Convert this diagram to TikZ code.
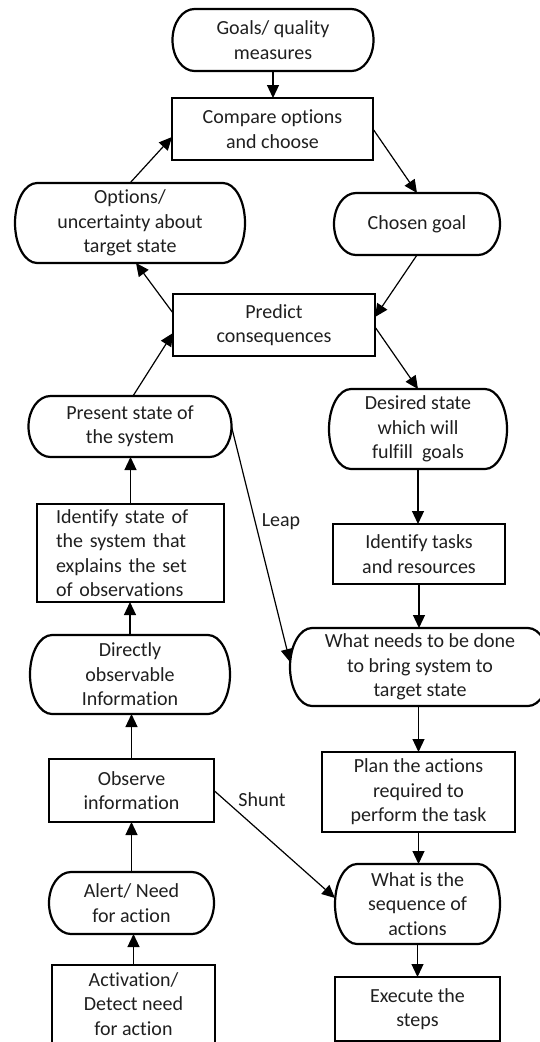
\documentclass[tikz,border=0pt]{standalone}
\usepackage{fontspec}
\setmainfont{Carlito}[Ligatures=NoCommon]
\usetikzlibrary{arrows.meta,calc}

% Terminator outline (flat top and bottom, elliptical ends) around a named node
\newcommand\termline[1]{%
  \draw[termborder] let \p1=(#1.north east), \p2=(#1.south west), \n1={(\y1-\y2)/2} in
    (\x1-22pt,\y1) -- (\x2+22pt,\y1)
    arc[start angle=90, end angle=270, x radius=22pt, y radius=\n1]
    -- (\x1-22pt,\y2)
    arc[start angle=-90, end angle=90, x radius=22pt, y radius=\n1] -- cycle;}

\begin{document}
\begin{tikzpicture}[x=1pt,y=1pt,
  every node/.style={font=\fontsize{20}{24.4}\selectfont, align=center,
                     inner sep=0pt, outer sep=0pt, text=black!88},
  blk/.style={draw, line width=2.2pt},
  termborder/.style={line width=2.2pt},
  flow/.style={line width=1.2pt, -{Triangle[length=13pt,width=12pt]}}]

\useasboundingbox (0,0) rectangle (540,-1042);
\clip (0,0) rectangle (540,-1042);

% ---------- top ----------
\node[minimum width=201pt, minimum height=62pt] (goals) at (273,-40) {Goals/ quality\\measures};
\node[blk, minimum width=201pt, minimum height=62pt] (compare) at (272.5,-129) {Compare options\\and choose};
\node[minimum width=230pt, minimum height=80pt] (options) at (130,-223) {Options/\\uncertainty about\\target state};
\node[minimum width=166pt, minimum height=62pt] (chosen) at (417,-224) {Chosen goal};
\node[blk, minimum width=202pt, minimum height=62pt] (predict) at (274,-325) {Predict\\consequences};

% ---------- left column ----------
\node[minimum width=203pt, minimum height=61pt] (present) at (130,-426.5) {Present state of\\the system};
\node[blk, minimum width=187pt, minimum height=98pt, text width=149pt, align=left] (identstate) at (130.5,-553)
  {Identify state of\\the system that\\explains the set\\of observations};
\node[minimum width=200pt, minimum height=79pt] (directly) at (130,-674.5) {Directly\\observable\\Information};
\node[blk, minimum width=165pt, minimum height=63pt] (observe) at (131.5,-790.5) {Observe\\information};
\node[minimum width=165pt, minimum height=62pt] (alert) at (131.5,-903) {Alert/ Need\\for action};
\node[blk, minimum width=163pt, minimum height=78pt] (activation) at (133.5,-1004) {Activation/\\Detect need\\for action};

% ---------- right column ----------
\node[minimum width=178pt, minimum height=80pt] (desired) at (418,-429) {Desired state\\which will\\fulfill~ goals};
\node[blk, minimum width=172pt, minimum height=60pt] (identtasks) at (419,-554) {Identify tasks\\and resources};
\node[minimum width=260pt, minimum height=78pt] (whatneeds) at (420,-667) {What needs to be done\\to bring system to\\target state};
\node[blk, minimum width=193pt, minimum height=80pt] (plan) at (418.5,-792) {Plan the actions\\required to\\perform the task};
\node[minimum width=165pt, minimum height=80pt] (sequence) at (417.5,-904) {What is the\\sequence of\\actions};
\node[blk, minimum width=165pt, minimum height=64pt] (execute) at (417.5,-1009) {Execute the\\steps};

% terminator outlines
\termline{goals}
\termline{options}
\termline{chosen}
\termline{present}
\termline{directly}
\termline{alert}
\termline{desired}
\termline{whatneeds}
\termline{sequence}

% connector labels
\node (leaplbl) at (281,-522) {Leap};
\node (shuntlbl) at (262,-800) {Shunt};

% ---------- connectors ----------
\draw[flow] (goals.south) -- (goals.south |- compare.north);
\draw[flow] (compare.east) -- (chosen.north);
\draw[flow] (options.north) -- ([yshift=-8pt]compare.west);
\draw[flow] (chosen.south) -- ([yshift=8pt]predict.east);
\draw[flow] ([yshift=12pt]predict.west) -- ([xshift=6pt]options.south);
\draw[flow] ([xshift=3pt]present.north) -- ([yshift=-8pt]predict.west);
\draw[flow] ([yshift=-2pt]predict.east) -- (desired.north);

\draw[flow] (desired.south) -- (desired.south |- identtasks.north);
\draw[flow] (identtasks.south) -- (identtasks.south |- whatneeds.north);
\draw[flow] (plan.north |- whatneeds.south) -- (plan.north);
\draw[flow] (plan.south) -- (plan.south |- sequence.north);
\draw[flow] (sequence.south) -- (sequence.south |- execute.north);

\draw[flow] (identstate.north) -- (identstate.north |- present.south);
\draw[flow] (directly.north) -- (directly.north |- identstate.south);
\draw[flow] (observe.north) -- (observe.north |- directly.south);
\draw[flow] (alert.north) -- (alert.north |- observe.south);
\draw[flow] (activation.north) -- (activation.north |- alert.south);

\draw[flow] (present.east) -- ([yshift=5pt]whatneeds.west);
\draw[flow] (observe.east) -- ([yshift=6pt]sequence.west);

\end{tikzpicture}
\end{document}
